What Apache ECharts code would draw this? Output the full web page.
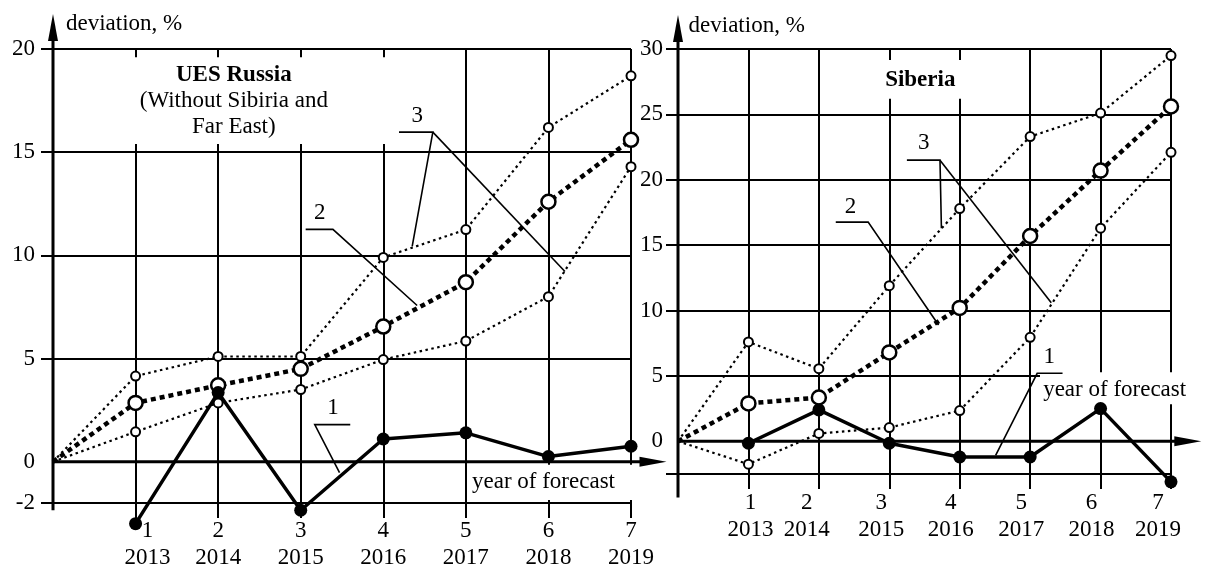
<!DOCTYPE html>
<html><head><meta charset="utf-8">
<script src="https://cdn.jsdelivr.net/npm/echarts@6/dist/echarts.min.js"></script>
<style>html,body{margin:0;padding:0;background:#fff}#c{width:1210px;height:569px}</style>
</head><body><div id="c"></div>
<script>
// ---------- data ----------
const steps = [1, 2, 3, 4, 5, 6, 7];
const stepsWithOrigin = [0, 1, 2, 3, 4, 5, 6, 7];
const years = ['2013', '2014', '2015', '2016', '2017', '2018', '2019'];

// UES Russia (without Siberia and Far East)
const uesCurve1 = [-3.0, 3.35, -2.35, 1.1, 1.4, 0.25, 0.75];
const uesCurve2 = [0, 2.85, 3.7, 4.5, 6.55, 8.7, 12.6, 15.6];
const uesCurve3Upper = [0, 4.15, 5.1, 5.1, 9.9, 11.25, 16.2, 18.7];
const uesCurve3Lower = [0, 1.45, 2.85, 3.5, 4.95, 5.85, 8.0, 14.3];
const uesGridValues = [-2, 5, 10, 15, 20];
const uesTickLabels = [-2, 0, 5, 10, 15, 20];

// Siberia
const sibCurve1 = [-0.15, 2.4, -0.15, -1.2, -1.2, 2.5, -3.1];
const sibCurve2 = [0, 2.9, 3.35, 6.8, 10.2, 15.7, 20.7, 25.6];
const sibCurve3Upper = [0, 7.6, 5.55, 11.9, 17.8, 23.3, 25.1, 29.5];
const sibCurve3Lower = [0, -1.75, 0.6, 1.05, 2.35, 7.95, 16.3, 22.1];
const sibGridValues = [-2.5, 5, 10, 15, 20, 25, 30];
const sibTickLabels = [0, 5, 10, 15, 20, 25, 30];

// ---------- styling ----------
const FONT = '"Liberation Serif", "Times New Roman", serif';
const FS = 23;
const uesLabelShift = [12, 0, 0, 0, 0, 0, 0];
const sibLabelShift = [2, -12, -8, -9, -9, -9, -13];

// origin point (x = 0) is drawn without a marker
function pairs(xs, ys) {
  return xs.map((x, i) => x === 0 ? { value: [x, ys[i]], symbol: 'none' } : [x, ys[i]]);
}

function series(g, data, kind) {
  const base = {
    type: 'line', xAxisIndex: g, yAxisIndex: g, data: data,
    symbol: 'circle', showSymbol: true, clip: false, animation: false,
    emphasis: { disabled: true }, silent: true
  };
  if (kind === 'actual') {
    return Object.assign(base, {
      z: 4, symbolSize: 13,
      lineStyle: { color: '#000', width: 3.5 },
      itemStyle: { color: '#000' }
    });
  }
  if (kind === 'mean') {
    return Object.assign(base, {
      z: 3, symbolSize: 14,
      lineStyle: { color: '#000', width: 4.5, type: [5, 4] },
      itemStyle: { color: '#fff', borderColor: '#000', borderWidth: 2.5 }
    });
  }
  return Object.assign(base, {
    z: 3, symbolSize: 9,
    lineStyle: { color: '#000', width: 2.2, type: [2.5, 3.5] },
    itemStyle: { color: '#fff', borderColor: '#000', borderWidth: 2 }
  });
}

function xAxisFor(g, shifts, margin) {
  const rich = {};
  shifts.forEach((s, i) => {
    rich['r' + i] = {
      fontSize: FS, fontFamily: FONT, color: '#000', lineHeight: 27,
      padding: s >= 0 ? [0, 0, 0, 2 * s] : [0, -2 * s, 0, 0]
    };
  });
  return {
    type: 'value', gridIndex: g, min: 0, max: 7,
    axisLine: { show: false, onZero: false },
    axisTick: { show: true, customValues: steps, length: 15, lineStyle: { color: '#000', width: 2 } },
    splitLine: { show: true, lineStyle: { color: '#000', width: 2 } },
    axisLabel: {
      customValues: steps, margin: margin,
      formatter: function (v) {
        const i = steps.indexOf(v);
        return '{r' + i + '|' + v + '}\n{r' + i + '|' + years[i] + '}';
      },
      rich: rich
    }
  };
}

function yAxisFor(g, min, max, ticks, labels, margin) {
  return {
    type: 'value', gridIndex: g, min: min, max: max,
    axisLine: { show: false },
    axisTick: { show: true, customValues: ticks, length: 12, lineStyle: { color: '#000', width: 2 } },
    splitLine: { show: true, lineStyle: { color: '#000', width: 2 } },
    axisLabel: { customValues: labels, margin: margin, color: '#000', fontSize: FS, fontFamily: FONT }
  };
}

const chart = echarts.init(document.getElementById('c'), null, { renderer: 'canvas' });
chart.setOption({
  backgroundColor: '#fff',
  animation: false,
  grid: [
    { left: 53, top: 49, width: 578, height: 454 },
    { left: 678, top: 49, width: 515, height: 425 }
  ],
  xAxis: [xAxisFor(0, uesLabelShift, 14), xAxisFor(1, sibLabelShift, 15)],
  yAxis: [
    yAxisFor(0, -2, 20, uesGridValues, uesTickLabels, 18),
    yAxisFor(1, -2.5, 30, sibGridValues, sibTickLabels, 15)
  ],
  series: [
    series(0, pairs(stepsWithOrigin, uesCurve3Upper), 'bound'),
    series(0, pairs(stepsWithOrigin, uesCurve3Lower), 'bound'),
    series(0, pairs(stepsWithOrigin, uesCurve2), 'mean'),
    series(0, pairs(steps, uesCurve1), 'actual'),
    series(1, pairs(stepsWithOrigin, sibCurve3Upper), 'bound'),
    series(1, pairs(stepsWithOrigin, sibCurve3Lower), 'bound'),
    series(1, pairs(stepsWithOrigin, sibCurve2), 'mean'),
    series(1, pairs(steps, sibCurve1), 'actual')
  ]
});

// ---------- annotations (in data units, converted through the axes) ----------
const panels = [
  {
    axisBottom: -2.35, axisTip: 21.7, zeroTip: 7.43,
    deviationAt: [0.157, 21.2],
    titleBox: [0.9, 19.6, 4.1, 15.4],
    titleLines: [['UES Russia', 2.19, 18.75, 'bold'], ['(Without Sibiria and', 2.19, 17.5, 'normal'], ['Far East)', 2.19, 16.2, 'normal']],
    forecastBox: [5.02, -0.15, 7.06, -1.85], forecastAt: [5.94, -0.97],
    notes: [
      { text: '3', at: [4.41, 16.75], paths: [[[4.19, 15.97], [4.6, 15.97], [4.35, 10.44]], [[4.6, 15.97], [6.2, 9.22]]] },
      { text: '2', at: [3.23, 12.05], paths: [[[3.06, 11.26], [3.39, 11.26], [4.41, 7.57]]] },
      { text: '1', at: [3.39, 2.62], paths: [[[3.6, 1.8], [3.17, 1.8], [3.47, -0.53]]] }
    ]
  },
  {
    axisBottom: -4.3, axisTip: 32.6, zeroTip: 7.43,
    deviationAt: [0.15, 31.8],
    titleBox: [2.88, 29.15, 4.1, 26.2],
    titleLines: [['Siberia', 3.44, 27.6, 'bold']],
    forecastBox: [5.14, 5.28, 7.4, 2.83], forecastAt: [6.2, 3.9],
    notes: [
      { text: '2', at: [2.45, 17.95], paths: [[[2.24, 16.76], [2.70, 16.76], [3.70, 8.9]]] },
      { text: '3', at: [3.49, 22.85], paths: [[[3.25, 21.5], [3.72, 21.5], [3.74, 16.3]], [[3.72, 21.5], [5.3, 10.6]]] },
      { text: '1', at: [5.27, 6.45], paths: [[[5.46, 5.2], [5.1, 5.2], [4.51, -1.07]]] }
    ]
  }
];

function P(g, x, y) { return chart.convertToPixel({ gridIndex: g }, [x, y]); }
const gfx = [];
function poly(points, w, z) {
  gfx.push({ type: 'polyline', silent: true, z: z, shape: { points: points }, style: { stroke: '#000', lineWidth: w, fill: 'none' } });
}
function tri(points, z) {
  gfx.push({ type: 'polygon', silent: true, z: z, shape: { points: points }, style: { fill: '#000', stroke: 'none' } });
}
function text(pt, s, align, weight, z) {
  gfx.push({ type: 'text', silent: true, z: z, x: pt[0], y: pt[1],
    style: { text: s, fontSize: FS, fontFamily: FONT, fontWeight: weight || 'normal', fill: '#000', align: align, verticalAlign: 'middle' } });
}
function box(g, b) {
  const a = P(g, b[0], b[1]), c = P(g, b[2], b[3]);
  gfx.push({ type: 'rect', silent: true, z: 1, shape: { x: a[0], y: a[1], width: c[0] - a[0], height: c[1] - a[1] }, style: { fill: '#fff' } });
}

panels.forEach((p, g) => {
  // vertical axis with arrow
  const b = P(g, 0, p.axisBottom), t = P(g, 0, p.axisTip);
  poly([b, [t[0], t[1] + 20]], 3, 2);
  tri([[t[0], t[1]], [t[0] - 5, t[1] + 27], [t[0] + 5, t[1] + 27]], 2);
  // zero line with arrow
  const o = P(g, 0, 0), e = P(g, p.zeroTip, 0);
  poly([o, [e[0] - 20, e[1]]], 3, 2);
  tri([[e[0], e[1]], [e[0] - 27, e[1] - 5], [e[0] - 27, e[1] + 5]], 2);
  // axis name
  text(P(g, p.deviationAt[0], p.deviationAt[1]), 'deviation, %', 'left', 'normal', 6);
  // title
  box(g, p.titleBox);
  p.titleLines.forEach(l => text(P(g, l[1], l[2]), l[0], 'center', l[3], 6));
  // year of forecast
  box(g, p.forecastBox);
  text(P(g, p.forecastAt[0], p.forecastAt[1]), 'year of forecast', 'center', 'normal', 6);
  // numbered leaders
  p.notes.forEach(n => {
    n.paths.forEach(path => poly(path.map(q => P(g, q[0], q[1])), 1.6, 6));
    text(P(g, n.at[0], n.at[1]), n.text, 'center', 'normal', 6);
  });
});

chart.setOption({ graphic: { elements: gfx } });
</script>
</body></html>
